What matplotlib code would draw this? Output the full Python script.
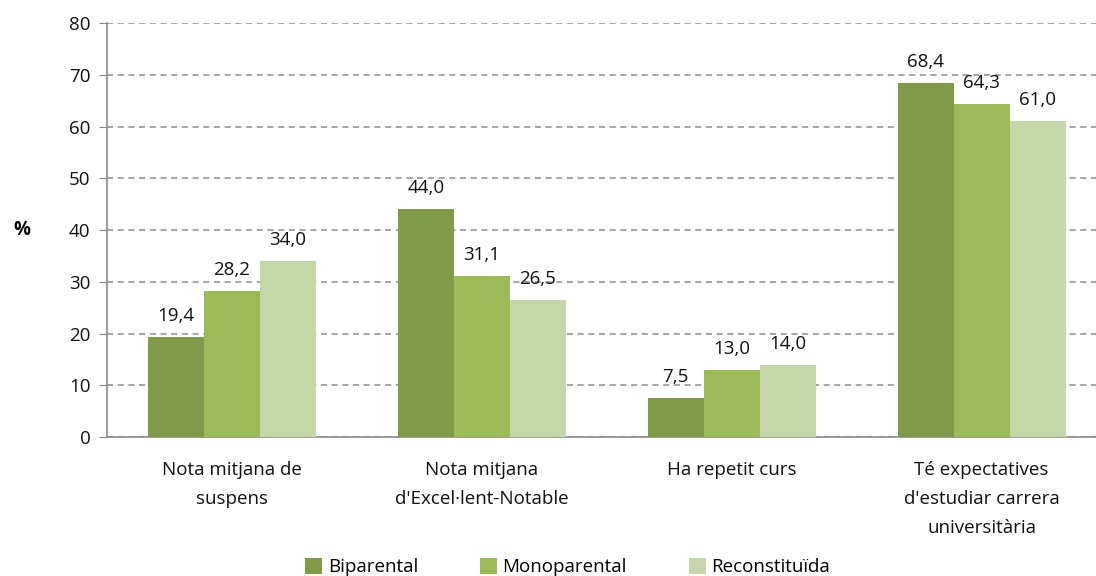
import matplotlib
matplotlib.use('agg')
import matplotlib.pyplot as plt
import numpy as np

plt.rcParams['font.family'] = ['Open Sans', 'DejaVu Sans']

categories = ['Nota mitjana de\nsuspens',
              "Nota mitjana\nd'Excel·lent-Notable",
              'Ha repetit curs',
              "Té expectatives\nd'estudiar carrera\nuniversitària"]
series = ['Biparental', 'Monoparental', 'Reconstituïda']
biparental = [19.4, 44.0, 7.5, 68.4]
monoparental = [28.2, 31.1, 13.0, 64.3]
reconstituida = [34.0, 26.5, 14.0, 61.0]
colors = ['#7f9a48', '#9bbb59', '#c5d7a8']

fs = 13.5

fig = plt.figure(figsize=(10.96, 5.76), dpi=100)
ax = fig.add_axes([0.0976, 0.241, 0.912, 0.719])

x = np.arange(len(categories))
w = 0.224
for i, (vals, name) in enumerate(zip([biparental, monoparental, reconstituida], series)):
	pos = x + (i - 1) * w
	ax.bar(pos, vals, w, color=colors[i], label=name, zorder=3)
	for p, v in zip(pos, vals):
		ax.text(p, v + 2.3, ('%.1f' % v).replace('.', ','), ha='center', va='bottom',
				fontsize=fs, color='#111111', zorder=4)

ax.set_xlim(-0.5, 3.5)
ax.set_ylim(0, 80)
ax.set_yticks(range(0, 81, 10))
ax.yaxis.grid(True, linestyle=(0, (4, 3)), color='#8c8c8c', linewidth=1.1, zorder=0)
ax.set_xticks(x)
ax.set_xticklabels(categories, fontsize=fs, linespacing=1.78, color='#111111')
ax.tick_params(axis='x', length=0, pad=17)
ax.tick_params(axis='y', length=6, color='#8c8c8c', labelsize=fs, labelcolor='#111111', pad=6)
for s in ['top', 'right']:
	ax.spines[s].set_visible(False)
for s in ['left', 'bottom']:
	ax.spines[s].set_color('#8c8c8c')
	ax.spines[s].set_linewidth(1.2)

fig.text(0.02, 0.6, '%', fontsize=fs, fontweight='bold', ha='center', va='center')

fig.legend(loc='lower center', bbox_to_anchor=(0.518, -0.03), ncol=3, frameon=False,
		   fontsize=fs, handlelength=0.9, handleheight=0.9, handletextpad=0.3, columnspacing=3.3)

fig.savefig('out.png', dpi=100)
